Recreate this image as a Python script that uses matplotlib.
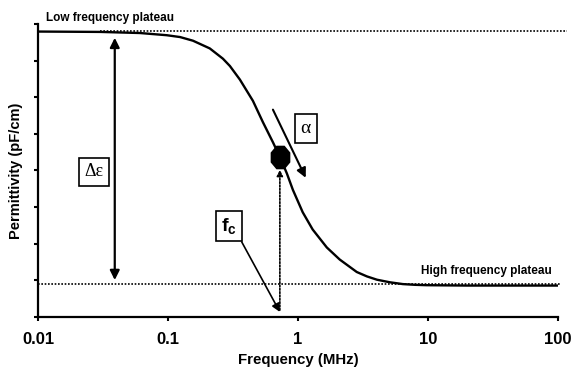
import numpy as np
import matplotlib
matplotlib.use("Agg")
import matplotlib.pyplot as plt
from matplotlib.path import Path

# Data
freq = [0.01, 0.030, 0.061, 0.098, 0.124, 0.156, 0.210, 0.265, 0.300, 0.358,
        0.451, 0.538, 0.643, 0.727, 0.823, 0.916, 1.09, 1.30, 1.67, 2.10,
        2.84, 3.40, 4.06, 5.10, 6.43, 8.0, 9.8, 20, 50, 100]
perm = [7.79, 7.78, 7.75, 7.69, 7.64, 7.54, 7.33, 7.05, 6.85, 6.48,
        5.90, 5.32, 4.77, 4.37, 3.92, 3.47, 2.86, 2.39, 1.90, 1.57,
        1.23, 1.11, 1.02, 0.95, 0.90, 0.88, 0.87, 0.86, 0.86, 0.86]
low_plateau = 7.81
high_plateau = 0.90
fc = 0.727
fc_perm = 4.37
xticks = [0.01, 0.1, 1, 10, 100]
xtick_labels = ["0.01", "0.1", "1", "10", "100"]
yticks = [0, 1, 2, 3, 4, 5, 6, 7, 8]

plt.rcParams['font.family'] = ['Liberation Sans', 'DejaVu Sans']
plt.rcParams['mathtext.fontset'] = 'custom'
plt.rcParams['mathtext.bf'] = 'Liberation Sans:bold'
plt.rcParams['mathtext.rm'] = 'Liberation Sans'

fig = plt.figure(figsize=(5.75, 3.67), dpi=100)
ax = fig.add_axes([0.066, 0.136, 0.904, 0.799])
ax.set_xscale('log')
ax.set_xlim(0.01, 100)
ax.set_ylim(0, 8)

ax.plot(freq, perm, color='black', lw=1.7, solid_capstyle='round',
        solid_joinstyle='round', zorder=3)

# plateaus
ax.plot([0.03, 117], [low_plateau, low_plateau], color='black', lw=1.2,
        ls=(0, (1, 1)), clip_on=False)
ax.plot([0.01, 105], [high_plateau, high_plateau], color='black', lw=1.2,
        ls=(0, (1, 1)), clip_on=False)
ax.text(0.0115, 8.17, "Low frequency plateau", fontsize=8.5, fontweight='bold',
        ha='left', va='center', clip_on=False)
ax.text(8.8, 1.26, "High frequency plateau", fontsize=8.5, fontweight='bold',
        ha='left', va='center')

# delta epsilon arrow
ax.annotate("", xy=(0.039, 7.62), xytext=(0.039, 1.01),
            arrowprops=dict(arrowstyle='<|-|>', color='black', lw=1.6,
                            mutation_scale=14, shrinkA=0, shrinkB=0))
ax.text(0.027, 3.96, "Δε", fontsize=13, family='Liberation Serif',
        ha='center', va='center',
        bbox=dict(boxstyle='square,pad=0.3', fc='white', ec='black', lw=1.2))

# alpha arrow and label
ax.annotate("", xy=(1.15, 3.80), xytext=(0.643, 5.66),
            arrowprops=dict(arrowstyle='-|>', color='black', lw=1.5,
                            mutation_scale=14, shrinkA=0, shrinkB=0))
ax.text(1.15, 5.14, "α", fontsize=14, family='Liberation Serif',
        ha='center', va='center',
        bbox=dict(boxstyle='square,pad=0.3', fc='white', ec='black', lw=1.2))

# characteristic frequency point (tall octagon)
c = np.cos(np.pi / 8)
s = np.sin(np.pi / 8)
oct_verts = [(s, c * 1.2), (c, s * 1.2), (c, -s * 1.2), (s, -c * 1.2),
             (-s, -c * 1.2), (-c, -s * 1.2), (-c, s * 1.2), (-s, c * 1.2),
             (s, c * 1.2)]
oct_marker = Path(oct_verts, closed=True)
ax.plot([fc], [fc_perm], marker=oct_marker, ms=17, color='black', zorder=5,
        markeredgewidth=0)
ax.annotate("", xy=(fc, 4.02), xytext=(fc, 0.19),
            arrowprops=dict(arrowstyle='-|>', color='black', lw=1.2,
                            linestyle=(0, (1, 1)), mutation_scale=9,
                            shrinkA=0, shrinkB=0))
ax.text(0.294, 2.49, r"$\mathbf{f_c}$", fontsize=14, ha='center', va='center',
        bbox=dict(boxstyle='square,pad=0.25', fc='white', ec='black', lw=1.2))
ax.annotate("", xy=(fc, 0.14), xytext=(0.37, 2.05),
            arrowprops=dict(arrowstyle='-|>', color='black', lw=1.2,
                            mutation_scale=12, shrinkA=0, shrinkB=0))

for sp in ['top', 'right']:
    ax.spines[sp].set_visible(False)
for sp in ['left', 'bottom']:
    ax.spines[sp].set_linewidth(1.6)

ax.set_xticks(xticks)
ax.set_xticklabels(xtick_labels, fontsize=12, fontweight='bold')
ax.xaxis.set_minor_locator(matplotlib.ticker.NullLocator())
ax.set_yticks(yticks)
ax.set_yticklabels([])
ax.tick_params(axis='both', direction='out', length=3, width=1.5, pad=8)
ax.set_xlabel("Frequency (MHz)", fontsize=10.8, fontweight='bold', labelpad=4)
ax.set_ylabel("Permittivity (pF/cm)", fontsize=10.5, fontweight='bold', labelpad=0)

fig.savefig("out.png", dpi=100)
